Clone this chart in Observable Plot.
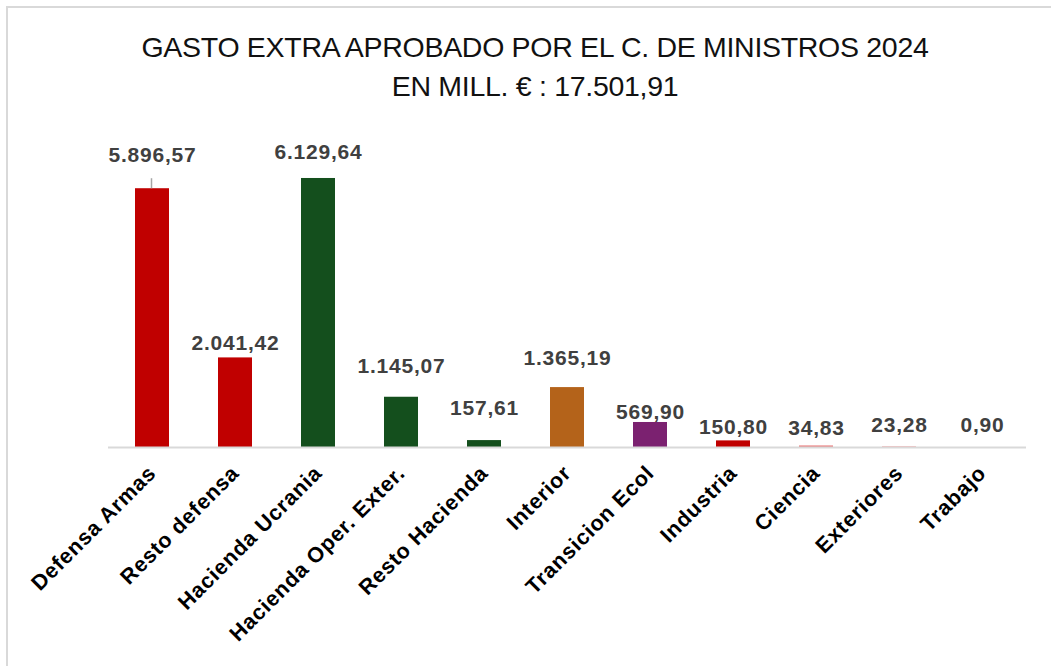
<!DOCTYPE html>
<html>
<head>
<meta charset="utf-8">
<script src="https://cdn.jsdelivr.net/npm/d3@7"></script>
<script src="https://cdn.jsdelivr.net/npm/@observablehq/plot@0.6"></script>
<style>
  html, body { margin: 0; padding: 0; background: #fff; }
  body { width: 1051px; height: 666px; position: relative; overflow: hidden; font-family: "Liberation Sans", Arial, sans-serif; }
  #frame { position: absolute; left: 6px; top: 6px; width: 1100px; height: 700px; border-left: 2px solid #d9d9d9; border-top: 2px solid #d9d9d9; }
  #title { position: absolute; left: 0; width: 1070px; top: 28px; text-align: center; font-size: 28.5px; line-height: 39px; color: #111; letter-spacing: -0.3px; }
  #chart { position: absolute; left: 0; top: 110px; }
</style>
</head>
<body>
<div id="frame"></div>
<div id="title">GASTO EXTRA APROBADO POR EL C. DE MINISTROS 2024<br>EN MILL. € : 17.501,91</div>
<div id="chart"></div>
<script>
// Data
const categories = ["Defensa Armas", "Resto defensa", "Hacienda Ucrania", "Hacienda Oper. Exter.", "Resto Hacienda", "Interior", "Transicion Ecol", "Industria", "Ciencia", "Exteriores", "Trabajo"];
const values = [5896.57, 2041.42, 6129.64, 1145.07, 157.61, 1365.19, 569.90, 150.80, 34.83, 23.28, 0.90];
const labels = ["5.896,57", "2.041,42", "6.129,64", "1.145,07", "157,61", "1.365,19", "569,90", "150,80", "34,83", "23,28", "0,90"];

// Styles
const barColors = ["#c00000", "#c00000", "#144f1d", "#144f1d", "#144f1d", "#b4631a", "#7b2170", "#c00000", "#e87474", "#f4b8b8", "#f8d0d0"];
const labelDy = [-33, -15, -26, -31, -32, -29, -10, -14, -18, -21, -22];

const table = categories.map((c, i) => ({ category: c, value: values[i], label: labels[i], color: barColors[i], dy: labelDy[i] }));

const W = 1051, H = 556;
const plot = Plot.plot({
  width: W,
  height: H,
  marginLeft: 108,
  marginRight: 25,
  marginTop: 20,
  marginBottom: 219,
  style: { fontFamily: "'Liberation Sans', Arial, sans-serif", background: "transparent", overflow: "visible" },
  x: { domain: categories, paddingInner: 0.59, paddingOuter: 0.295, label: null },
  y: { domain: [0, 7223], axis: null },
  marks: [
    Plot.barY(table, { x: "category", y: "value", fill: "color" }),
    Plot.ruleY([0], { stroke: "#d9d9d9", strokeWidth: 2 }),
    Plot.ruleX(table.filter(d => d.category === "Defensa Armas"), { x: "category", y1: "value", y2: "value", insetTop: -10, dx: -1, stroke: "#a6a6a6", strokeWidth: 1.5 }),
    ...table.map(d => Plot.text([d], { x: "category", y: "value", text: "label", dy: d.dy, fill: "#404040", fontSize: 21, fontWeight: "bold", lineAnchor: "middle" })),
    Plot.axisX({ tickSize: 0, tickPadding: 22, tickRotate: -45, fontSize: 21.5, fontWeight: "bold", fill: "#000", label: null })
  ]
});
document.getElementById("chart").append(plot);
d3.select(plot).selectAll("text").style("letter-spacing", "0.8px");
</script>
</body>
</html>
